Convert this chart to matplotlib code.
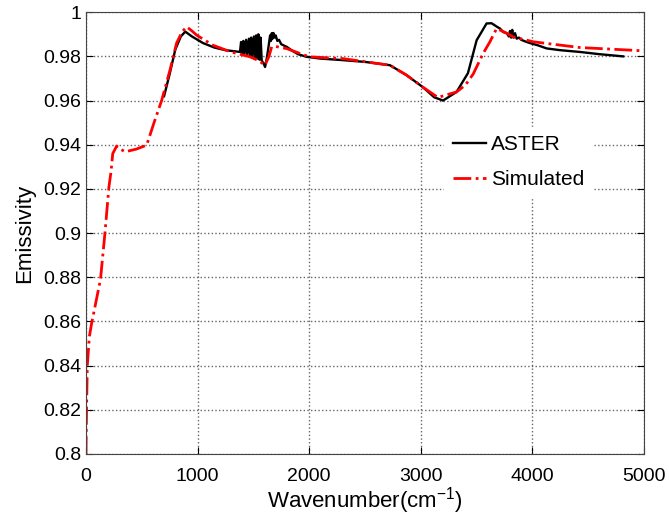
import numpy as np
import matplotlib.pyplot as plt

plt.rcParams['font.family'] = ['Liberation Sans', 'DejaVu Sans']
plt.rcParams['mathtext.fontset'] = 'custom'
plt.rcParams['mathtext.rm'] = 'Liberation Sans'

aster_x = [700, 750, 800, 850, 890, 950, 1050, 1150, 1250, 1350,
           1380, 1390, 1400, 1410, 1420, 1435, 1445, 1460, 1470, 1480,
           1490, 1505, 1515, 1525, 1535, 1545, 1555, 1565, 1575, 1590,
           1605, 1620, 1635, 1650, 1658, 1665, 1672, 1680, 1690, 1700,
           1715, 1730, 1750, 1770, 1800, 1850, 1900, 1977, 2100, 2300,
           2500, 2724, 2873, 3021, 3120, 3200, 3321, 3423, 3501, 3590,
           3635, 3680, 3710, 3740, 3770, 3790, 3800, 3810, 3820, 3830,
           3845, 3860, 3880, 3900, 3950, 3980, 4050, 4128, 4250, 4427,
           4600, 4814]
aster_y = [0.962, 0.972, 0.983, 0.989, 0.9912, 0.989, 0.986, 0.984, 0.9828, 0.9822,
           0.982, 0.9865, 0.9815, 0.987, 0.981, 0.9875, 0.981, 0.988, 0.9805, 0.9885,
           0.980, 0.989, 0.9795, 0.9895, 0.979, 0.990, 0.9785, 0.9885, 0.978, 0.977,
           0.9752, 0.979, 0.984, 0.9895, 0.987, 0.9905, 0.988, 0.9906, 0.9885, 0.9895,
           0.987, 0.9875, 0.9855, 0.985, 0.9843, 0.9825, 0.981, 0.9798, 0.979, 0.9783,
           0.9775, 0.976, 0.9715, 0.966, 0.9615, 0.960, 0.9639, 0.9724, 0.9873, 0.9949,
           0.995, 0.9935, 0.9926, 0.991, 0.9905, 0.989, 0.9915, 0.9885, 0.992, 0.9885,
           0.9905, 0.988, 0.9885, 0.9875, 0.9865, 0.986, 0.985, 0.9836, 0.9828, 0.982,
           0.981, 0.980]

# simulated emissivity
sim_x = [0, 5, 12, 30, 50, 90, 130, 170, 206, 225,
         240, 275, 310, 350, 450, 544, 610, 678, 753, 812,
         860, 902, 950, 992, 1140, 1300, 1470, 1550, 1604, 1640,
         1664, 1700, 1800, 2000, 2300, 2724, 2873, 3021, 3154, 3321,
         3400, 3470, 3560, 3620, 3680, 3750, 3829, 4009, 4427, 5000]
sim_y = [0.800, 0.820, 0.840, 0.853, 0.859, 0.869, 0.879, 0.900, 0.921, 0.928,
         0.936, 0.9394, 0.938, 0.9368, 0.938, 0.9398, 0.950, 0.960, 0.9738, 0.986,
         0.991, 0.9934, 0.9915, 0.9896, 0.985, 0.982, 0.9798, 0.978, 0.976, 0.980,
         0.9843, 0.9845, 0.9835, 0.9798, 0.979, 0.976, 0.9715, 0.966, 0.9614, 0.9639,
         0.967, 0.972, 0.9814, 0.9866, 0.9926, 0.991, 0.9888, 0.9866, 0.984, 0.9825]

fig = plt.figure(figsize=(6.69, 5.21), dpi=100)
ax = fig.add_axes([0.1285, 0.1286, 0.834, 0.848])

ax.plot(aster_x, aster_y, '-k', lw=1.7, label='ASTER')
ax.plot(sim_x, sim_y, '-.', color='red', lw=2, label='Simulated')

ax.set_xlim(0, 5000)
ax.set_ylim(0.8, 1.0)
ax.set_xticks(np.arange(0, 5001, 1000))
ax.set_yticks(np.arange(0.8, 1.001, 0.02))
ax.set_yticklabels(['0.8', '0.82', '0.84', '0.86', '0.88', '0.9',
                    '0.92', '0.94', '0.96', '0.98', '1'])
ax.grid(True, linestyle=':', color='#666666', lw=1)
ax.tick_params(direction='in', labelsize=14, length=5, top=True, right=True)
ax.tick_params(axis='x', pad=10)
for s in ax.spines.values():
    s.set_color('#444444')

ax.set_xlabel('Wavenumber(cm$^{-1}$)', fontsize=16, labelpad=0)
ax.set_ylabel('Emissivity', fontsize=16, labelpad=6)

leg = ax.legend(loc='upper left', bbox_to_anchor=(0.642, 0.740), fontsize=15,
                frameon=True, fancybox=False, edgecolor='white', framealpha=1,
                borderaxespad=0, handlelength=1.6, handletextpad=0.25,
                labelspacing=0.75)

fig.savefig('out.png', dpi=100)
